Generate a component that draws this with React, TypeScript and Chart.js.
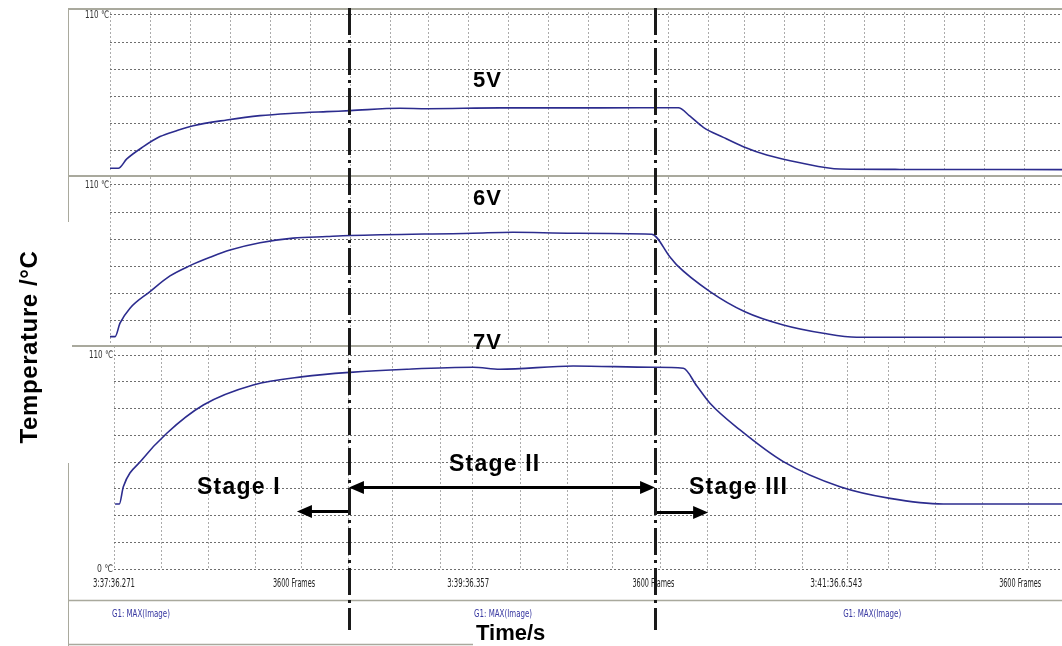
import React, { useEffect, useRef } from "react";
import { Chart, registerables } from "chart.js";

Chart.register(...registerables);

// ---------- data: time (s) and temperature (°C) ----------
const TIME_5V = [0, 3.1, 6.3, 12.5, 18.75, 25, 31.2, 43.8, 56.25, 68.7, 81.3, 90, 108.75, 118.9, 146.25, 183.75, 213.1, 217.5, 222.5, 230, 237.5, 246.3, 258.75, 273.75, 296.25, 357];
const TEMP_5V = [32.5, 32.5, 37.2, 43.4, 48.5, 51.5, 54, 56.9, 59.1, 60.3, 61.1, 61.6, 62.8, 62.6, 63, 63, 63.1, 58.8, 53.2, 48.1, 43.4, 39.2, 35.3, 32.1, 31.9, 31.8];

const TIME_6V = [0, 1.9, 3.75, 7.5, 15, 22.5, 30, 37.5, 45, 56.25, 68.7, 81.3, 90, 136.1, 151.1, 173.6, 203.1, 210, 212.5, 225, 238.1, 252.5, 267.5, 280, 357];
const TEMP_6V = [33.3, 33.3, 40.1, 47.7, 56.1, 64, 69.2, 73.4, 77.1, 80.8, 83.1, 83.9, 84.4, 85.6, 86.1, 85.6, 85.1, 73.6, 69.6, 56.1, 45.9, 39.2, 35, 33, 33];

const TIME_7V = [1.9, 3.5, 5, 11.9, 21.3, 35, 53.7, 72.5, 90, 111.3, 136.2, 146.25, 173.7, 203.7, 215, 220, 225, 236.25, 252.5, 273.75, 292.5, 312.5, 357];
const TEMP_7V = [33.4, 33.4, 42.3, 56, 69.8, 84.3, 94.6, 98.9, 101.1, 102.7, 103.7, 102.7, 104.4, 103.7, 103.2, 94.2, 85.2, 71.5, 55.2, 42.3, 36.3, 33.4, 33.4];

// grid / tick values
const Y_GRID = [0, 13.75, 27.5, 41.25, 55, 68.75, 82.5, 96.25, 110];
const X_GRID_UPPER = [0, 15, 30, 45, 60, 75, 90, 105, 119.3, 134.3, 149.3, 164.3, 179.3, 194.3, 209.3, 224.3, 238.1, 253.1, 268.1, 283.1, 298.1, 313.1, 328.1, 343.1];
const X_GRID_LOWER = [1.5, 19.4, 36.9, 54.4, 71.9, 89.6, 106.1, 123.8, 136.1, 153.8, 171.4, 188.6, 206.3, 223.9, 241.9, 259.5, 276.4, 291.8, 309.4, 327, 344.3];
const X_TICK_LABELS = ["3:37:36.271", "3600 Frames", "3:39:36.357", "3600 Frames", "3:41:36.6.543", "3600 Frames"];
const X_TICK_POS = [1.5, 69, 134.3, 203.8, 272.3, 341.3];
const G1_LABELS = ["G1: MAX(Image)", "G1: MAX(Image)", "G1: MAX(Image)"];
const G1_POS = [11.6, 147.4, 285.8];
const STAGE_BOUNDS = [89.6, 204.4];
const X_MAX = 357;

const FRAME = "#a9a99d";
const LINE = "#2c2c8e";
const SMALL_FONT = '12px "Liberation Sans Narrow", "DejaVu Sans Condensed", "Liberation Sans", sans-serif';

type Arrow = { x0: number; x1: number; y: number; both: boolean };
const ARROWS: Arrow[] = [
  { x0: 89.6, x1: 70.1, y: 29.8, both: false },
  { x0: 89.6, x1: 204.4, y: 42.2, both: true },
  { x0: 204.4, x1: 224.3, y: 29.3, both: false },
];

type PanelCfg = {
  top: number;
  height: number;
  pad: { left: number; top: number; right: number; bottom: number };
  yMin: number;
  yMax: number;
  xMin: number;
  time: number[];
  temp: number[];
  xGrid: number[];
  yLabels: [number, string][];
  frame: (ctx: CanvasRenderingContext2D, w: number, h: number) => void;
  extra?: (chart: any) => void;
  dashEnd?: number;
};

function hLine(ctx: CanvasRenderingContext2D, x0: number, x1: number, y: number, w: number) {
  ctx.lineWidth = w;
  ctx.beginPath();
  ctx.moveTo(x0, y);
  ctx.lineTo(x1, y);
  ctx.stroke();
}
function vLine(ctx: CanvasRenderingContext2D, x: number, y0: number, y1: number, w: number) {
  ctx.lineWidth = w;
  ctx.beginPath();
  ctx.moveTo(x, y0);
  ctx.lineTo(x, y1);
  ctx.stroke();
}

function drawHead(ctx: CanvasRenderingContext2D, tipX: number, y: number, dir: number) {
  const L = 15, H = 6.5;
  ctx.beginPath();
  ctx.moveTo(tipX, y);
  ctx.lineTo(tipX - dir * L, y - H);
  ctx.lineTo(tipX - dir * L, y + H);
  ctx.closePath();
  ctx.fill();
}

const PANELS: PanelCfg[] = [
  {
    top: 8,
    height: 167,
    pad: { left: 42, top: 0, right: 0, bottom: 3 },
    yMin: 30.6,
    yMax: 113.5,
    xMin: 0,
    time: TIME_5V,
    temp: TEMP_5V,
    xGrid: X_GRID_UPPER,
    yLabels: [[110, "110 ℃"]],
    frame: (ctx, w, h) => {
      ctx.strokeStyle = FRAME;
      hLine(ctx, 0, w, 1, 2);
      vLine(ctx, 0.5, 0, h, 1);
    },
  },
  {
    top: 175,
    height: 170,
    pad: { left: 42, top: 2, right: 0, bottom: 2 },
    yMin: 30.1,
    yMax: 114.0,
    xMin: 0,
    time: TIME_6V,
    temp: TEMP_6V,
    xGrid: X_GRID_UPPER,
    yLabels: [[110, "110 ℃"]],
    frame: (ctx, w, h) => {
      ctx.strokeStyle = FRAME;
      hLine(ctx, 0, w, 1, 2);
      vLine(ctx, 0.5, 0, h, 1);
    },
  },
  {
    top: 345,
    height: 301,
    pad: { left: 46, top: 1, right: 0, bottom: 77 },
    yMin: 0,
    yMax: 114.65,
    xMin: 1.5,
    time: TIME_7V,
    temp: TEMP_7V,
    xGrid: X_GRID_LOWER,
    yLabels: [[110, "110 ℃"], [0, "0 ℃"]],
    dashEnd: 285,
    frame: (ctx, w, h) => {
      ctx.strokeStyle = FRAME;
      hLine(ctx, 0, w, 1, 2);
      vLine(ctx, 0.5, 0, h, 1);
      hLine(ctx, 0, w, 255.5, 1.5);
      hLine(ctx, 0, 405, 299.5, 1.5);
    },
    extra: (chart) => {
      const { ctx, scales } = chart;
      const x = scales.x, y = scales.y;
      ctx.fillStyle = "#222";
      ctx.font = SMALL_FONT;
      ctx.textAlign = "center";
      ctx.textBaseline = "middle";
      X_TICK_LABELS.forEach((s, i) => {
        ctx.fillText(s, x.getPixelForValue(X_TICK_POS[i]), 239, s.length > 11 ? 52 : 42);
      });
      ctx.fillStyle = "#3535a0";
      ctx.font = '11px "Liberation Sans Narrow", "DejaVu Sans Condensed", sans-serif';
      G1_LABELS.forEach((s, i) => {
        ctx.fillText(s, x.getPixelForValue(G1_POS[i]), 269, 58);
      });
      // stage arrows
      ctx.strokeStyle = "#000";
      ctx.fillStyle = "#000";
      ctx.lineWidth = 3;
      ctx.setLineDash([]);
      for (const a of ARROWS) {
        const p0 = x.getPixelForValue(a.x0);
        const p1 = x.getPixelForValue(a.x1);
        const py = Math.round(y.getPixelForValue(a.y)) + 0.5;
        const dir = Math.sign(p1 - p0);
        ctx.beginPath();
        ctx.moveTo(a.both ? p0 + dir * 12 : p0, py);
        ctx.lineTo(p1 - dir * 12, py);
        ctx.stroke();
        drawHead(ctx, p1, py, dir);
        if (a.both) drawHead(ctx, p0, py, -dir);
      }
    },
  },
];

function PanelChart({ cfg }: { cfg: PanelCfg }) {
  const ref = useRef<HTMLCanvasElement>(null);
  useEffect(() => {
    const canvas = ref.current;
    if (!canvas) return;
    const decor = {
      id: "panelDecor",
      beforeDraw(chart: any) {
        const ctx = chart.ctx;
        ctx.save();
        ctx.fillStyle = "#fff";
        ctx.fillRect(0, 0, chart.width, chart.height);
        ctx.restore();
      },
      afterDraw(chart: any) {
        const { ctx, chartArea, scales } = chart;
        ctx.save();
        cfg.frame(ctx, chart.width, chart.height);
        ctx.fillStyle = "#333";
        ctx.font = '10px "Liberation Sans Narrow", "DejaVu Sans Condensed", "Liberation Sans", sans-serif';
        ctx.textAlign = "right";
        ctx.textBaseline = "middle";
        for (const [v, s] of cfg.yLabels) {
          ctx.fillText(s, chartArea.left - 1, scales.y.getPixelForValue(v), s.length > 4 ? 24 : 16);
        }
        if (cfg.extra) cfg.extra(chart);
        ctx.setLineDash([27, 5, 3, 5]);
        ctx.lineDashOffset = cfg.top - 8;
        ctx.lineWidth = 3;
        ctx.strokeStyle = "#1a1a1a";
        for (const b of STAGE_BOUNDS) {
          const px = Math.round(scales.x.getPixelForValue(b)) + 0.5;
          ctx.beginPath();
          ctx.moveTo(px, 0);
          ctx.lineTo(px, cfg.dashEnd ?? chart.height);
          ctx.stroke();
        }
        ctx.restore();
      },
    };
    const chart = new Chart(canvas, {
      type: "line",
      data: {
        datasets: [
          {
            data: cfg.time.map((t, i) => ({ x: t, y: cfg.temp[i] })),
            borderColor: LINE,
            borderWidth: 1.6,
            pointRadius: 0,
            cubicInterpolationMode: "monotone",
            fill: false,
          },
        ],
      },
      options: {
        responsive: false,
        maintainAspectRatio: false,
        animation: false,
        events: [],
        layout: { padding: cfg.pad },
        plugins: { legend: { display: false }, tooltip: { enabled: false } },
        scales: {
          x: {
            type: "linear",
            min: cfg.xMin,
            max: X_MAX,
            ticks: { display: false },
            grid: { color: "#ababab", lineWidth: 1, drawTicks: false },
            border: { display: false, dash: [2, 2] },
            afterBuildTicks: (axis: any) => {
              axis.ticks = cfg.xGrid.map((v) => ({ value: v }));
            },
          },
          y: {
            type: "linear",
            min: cfg.yMin,
            max: cfg.yMax,
            ticks: { display: false },
            grid: { color: "#6f6f6f", lineWidth: 1, drawTicks: false },
            border: { display: false, dash: [2, 2] },
            afterBuildTicks: (axis: any) => {
              axis.ticks = Y_GRID.filter((v) => v >= cfg.yMin && v <= cfg.yMax).map((v) => ({ value: v }));
            },
          },
        },
      } as any,
      plugins: [decor],
    });
    return () => chart.destroy();
  }, [cfg]);
  return (
    <canvas
      ref={ref}
      width={994}
      height={cfg.height}
      style={{ position: "absolute", left: 68, top: cfg.top, width: 994, height: cfg.height, zIndex: 0 }}
    />
  );
}

const bold: React.CSSProperties = {
  position: "absolute",
  fontFamily: 'Arial, "Liberation Sans", Helvetica, sans-serif',
  fontWeight: "bold",
  color: "#000",
  lineHeight: 1,
  whiteSpace: "nowrap",
  zIndex: 3,
};

export default function App() {
  return (
    <div style={{ position: "absolute", left: 0, top: 0, width: 1062, height: 646, overflow: "hidden", background: "#fff" }}>
      {PANELS.map((p, i) => (
        <PanelChart key={i} cfg={p} />
      ))}
      <div style={{ position: "absolute", left: 0, top: 222, width: 72, height: 241, background: "#fff", zIndex: 2 }} />
      <div style={{ ...bold, left: 473, top: 69, fontSize: 22, letterSpacing: 1 }}>5V</div>
      <div style={{ ...bold, left: 473, top: 187, fontSize: 22, letterSpacing: 1 }}>6V</div>
      <div style={{ ...bold, left: 473, top: 331, fontSize: 22, letterSpacing: 1 }}>7V</div>
      <div style={{ ...bold, left: 197, top: 475, fontSize: 23, letterSpacing: 1.2 }}>Stage I</div>
      <div style={{ ...bold, left: 449, top: 452, fontSize: 23, letterSpacing: 1.2 }}>Stage II</div>
      <div style={{ ...bold, left: 689, top: 475, fontSize: 23, letterSpacing: 1.2 }}>Stage III</div>
      <div style={{ ...bold, left: 476, top: 622, fontSize: 22 }}>Time/s</div>
      <div
        style={{
          ...bold,
          left: 29 - 130,
          top: 347 - 12,
          width: 260,
          height: 24,
          fontSize: 24,
          letterSpacing: 0.6,
          textAlign: "center",
          transform: "rotate(-90deg)",
          transformOrigin: "50% 50%",
        }}
      >
        Temperature /°C
      </div>
    </div>
  );
}
